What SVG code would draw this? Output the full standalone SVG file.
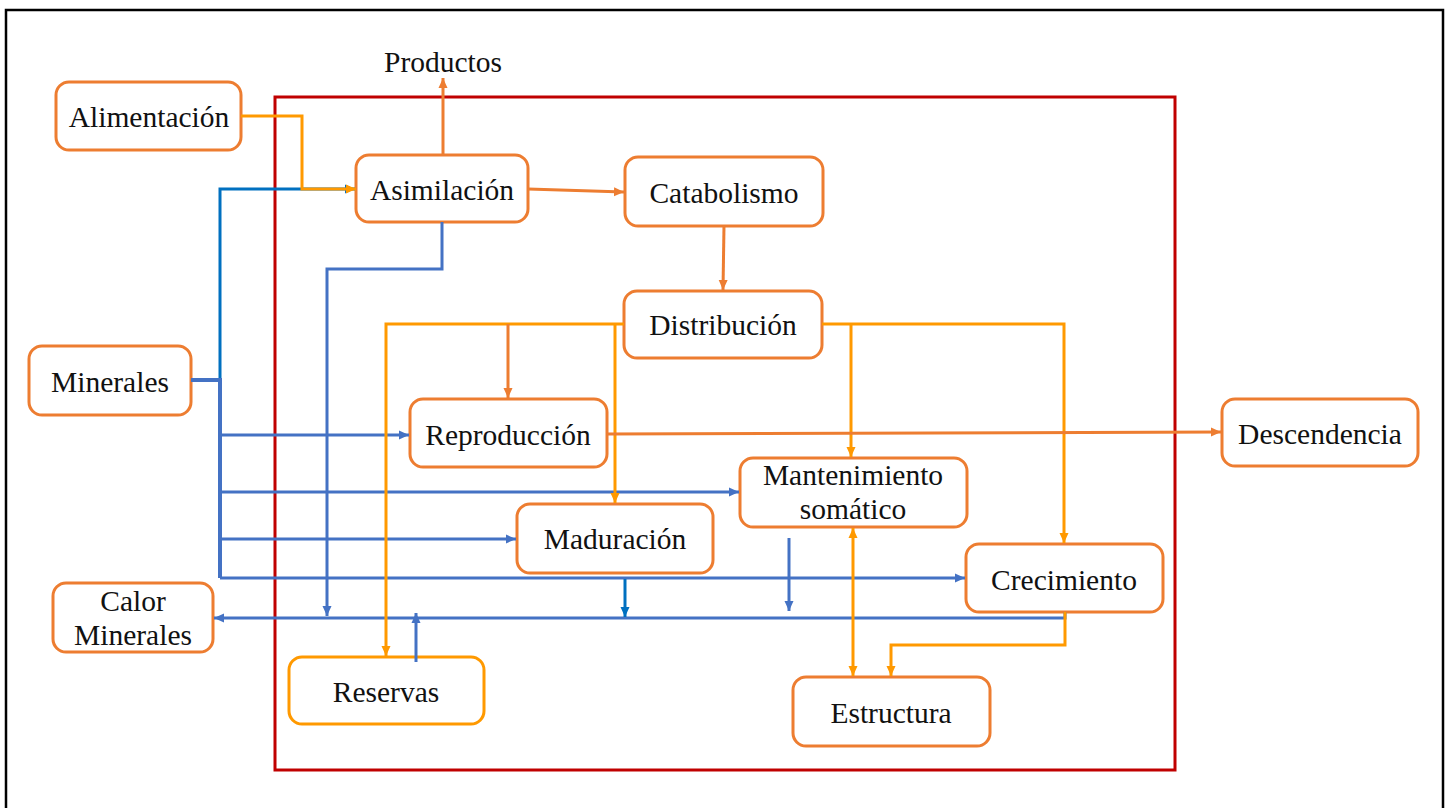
<svg xmlns="http://www.w3.org/2000/svg" width="1449" height="808" viewBox="0 0 1449 808">
<style>
.node rect{fill:#fff;stroke:#ED7D31;stroke-width:3}
.node.yel rect{stroke:#FF9900}
text{font-family:"Liberation Serif","Times New Roman",serif;font-size:29.5px;fill:#111;stroke:none;text-anchor:middle}
.c{fill:none;stroke-width:3}
.do{stroke:#ED7D31}
.lo{stroke:#FF9900}
.b1{stroke:#4472C4}
.b2{stroke:#0070C0}
</style>
<defs>
<marker id="mdo" markerUnits="userSpaceOnUse" markerWidth="11" markerHeight="10" refX="10" refY="5" orient="auto-start-reverse"><path d="M0,0.5 L10,5 L0,9.5z" fill="#ED7D31"/></marker>
<marker id="mlo" markerUnits="userSpaceOnUse" markerWidth="11" markerHeight="10" refX="10" refY="5" orient="auto-start-reverse"><path d="M0,0.5 L10,5 L0,9.5z" fill="#FF9900"/></marker>
<marker id="mb1" markerUnits="userSpaceOnUse" markerWidth="11" markerHeight="10" refX="10" refY="5" orient="auto-start-reverse"><path d="M0,0.5 L10,5 L0,9.5z" fill="#4472C4"/></marker>
<marker id="mb2" markerUnits="userSpaceOnUse" markerWidth="11" markerHeight="10" refX="10" refY="5" orient="auto-start-reverse"><path d="M0,0.5 L10,5 L0,9.5z" fill="#0070C0"/></marker>
</defs>
<rect x="0" y="0" width="1449" height="808" fill="#fff"/>
<path d="M6,812 V10 H1443 V812" fill="none" stroke="#000" stroke-width="2.5"/>
<rect id="frame" x="275" y="97" width="900" height="673" fill="none" stroke="#C00000" stroke-width="3"/>

<g id="n-alimentacion" class="node"><rect x="56" y="82" width="185" height="68" rx="13"/><text x="149" y="127">Alimentación</text></g>
<g id="n-asimilacion" class="node"><rect x="356" y="155" width="172" height="67" rx="13"/><text x="442" y="200">Asimilación</text></g>
<g id="n-catabolismo" class="node"><rect x="625" y="157" width="198" height="69" rx="13"/><text x="724" y="203">Catabolismo</text></g>
<g id="n-distribucion" class="node"><rect x="624" y="291" width="198" height="67" rx="13"/><text x="723" y="335">Distribución</text></g>
<g id="n-reproduccion" class="node"><rect x="410" y="399" width="197" height="68" rx="13"/><text x="508" y="445">Reproducción</text></g>
<g id="n-mantenimiento" class="node"><rect x="740" y="458" width="227" height="69" rx="13"/><text x="853" y="485">Mantenimiento</text><text x="853" y="519">somático</text></g>
<g id="n-maduracion" class="node"><rect x="517" y="504" width="196" height="69" rx="13"/><text x="615" y="549">Maduración</text></g>
<g id="n-crecimiento" class="node"><rect x="966" y="544" width="197" height="68" rx="13"/><text x="1064" y="590">Crecimiento</text></g>
<g id="n-estructura" class="node"><rect x="793" y="677" width="197" height="69" rx="13"/><text x="891" y="723">Estructura</text></g>
<g id="n-reservas" class="node yel"><rect x="289" y="657" width="195" height="67" rx="13"/><text x="386" y="702">Reservas</text></g>
<g id="n-calor" class="node"><rect x="53" y="583" width="160" height="69" rx="13"/><text x="133" y="611">Calor</text><text x="133" y="645">Minerales</text></g>
<g id="n-minerales" class="node"><rect x="29" y="346" width="162" height="69" rx="13"/><text x="110" y="392">Minerales</text></g>
<g id="n-descendencia" class="node"><rect x="1222" y="399" width="196" height="67" rx="13"/><text x="1320" y="444">Descendencia</text></g>
<g id="n-productos"><text x="443" y="72">Productos</text></g>

<g id="connectors">
<path class="c b2" d="M220,380 V189 H355" marker-end="url(#mb2)"/>
<path class="c b1" d="M191,380 H220 V578" style="stroke-width:4"/>
<path class="c b1" d="M220,435 H409" marker-end="url(#mb1)"/>
<path class="c b1" d="M220,492 H739" marker-end="url(#mb1)"/>
<path class="c b1" d="M220,539 H516" marker-end="url(#mb1)"/>
<path class="c b1" d="M220,578 H965" marker-end="url(#mb1)"/>
<path class="c b1" d="M442,222 V269 H327 V616" marker-end="url(#mb1)"/>
<path class="c b1" d="M1065,612 V618 H214" marker-end="url(#mb1)"/>
<path class="c b1" d="M416,662 V613" marker-end="url(#mb1)"/>
<path class="c b2" d="M625,579 V617" marker-end="url(#mb2)"/>
<path class="c b1" d="M789,538 V611" marker-end="url(#mb1)"/>
<path class="c lo" d="M241,116 H302 V189 H356" marker-end="url(#mlo)"/>
<path class="c lo" d="M624,324 H386 V656" marker-end="url(#mlo)"/>
<path class="c lo" d="M615,324 V503" marker-end="url(#mlo)"/>
<path class="c lo" d="M822,324 H1064 V543" marker-end="url(#mlo)"/>
<path class="c lo" d="M851,324 V457" marker-end="url(#mlo)"/>
<path class="c lo" d="M853,528 V676" marker-start="url(#mlo)" marker-end="url(#mlo)"/>
<path class="c lo" d="M1065,612 V645 H891 V676" marker-end="url(#mlo)"/>
<path class="c do" d="M443,155 V78" marker-end="url(#mdo)"/>
<path class="c do" d="M528,189 L624,192" marker-end="url(#mdo)"/>
<path class="c do" d="M724,226 L723,290" marker-end="url(#mdo)"/>
<path class="c do" d="M508,324 V398" marker-end="url(#mdo)"/>
<path class="c do" d="M607,434 L1221,432" marker-end="url(#mdo)"/>
</g>
</svg>
